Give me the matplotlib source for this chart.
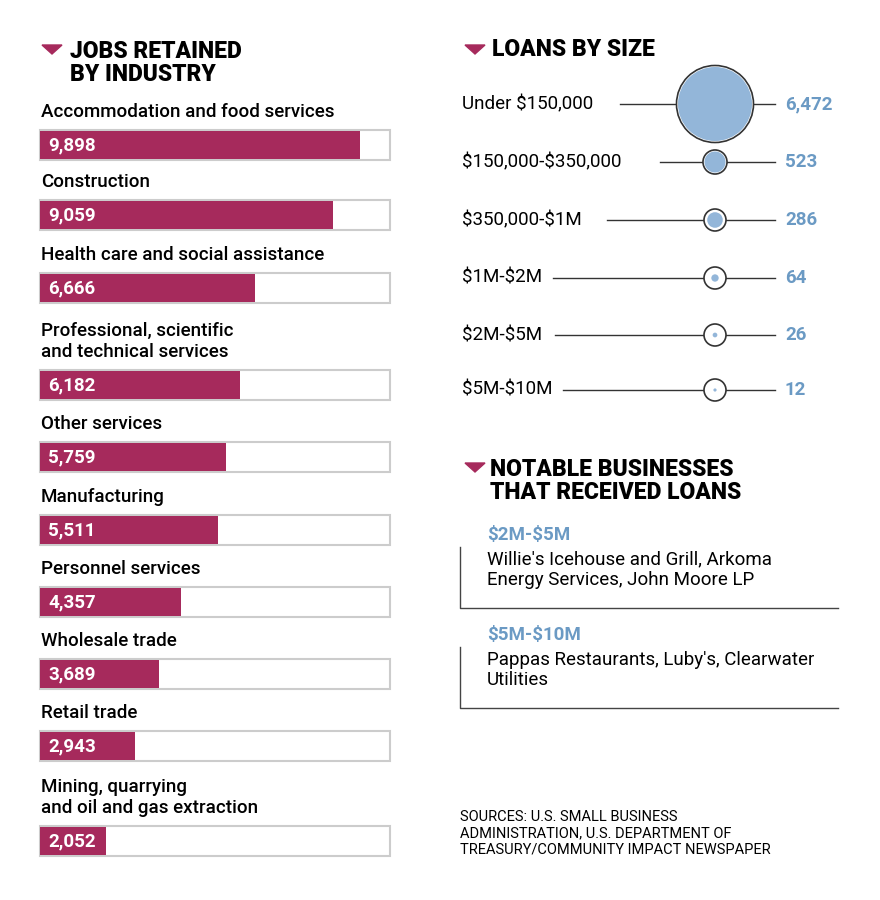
import numpy as np
import matplotlib.pyplot as plt
from matplotlib.patches import Circle, Rectangle, Polygon

plt.rcParams['font.family'] = ['Roboto', 'DejaVu Sans']

industries = ['Accommodation and food services', 'Construction', 'Health care and social assistance',
              'Professional, scientific\nand technical services', 'Other services', 'Manufacturing',
              'Personnel services', 'Wholesale trade', 'Retail trade',
              'Mining, quarrying\nand oil and gas extraction']
jobs = [9898, 9059, 6666, 6182, 5759, 5511, 4357, 3689, 2943, 2052]

loan_sizes = ['Under $150,000', '$150,000-$350,000', '$350,000-$1M', '$1M-$2M', '$2M-$5M', '$5M-$10M']
loan_counts = [6472, 523, 286, 64, 26, 12]

notable = [('$2M-$5M', "Willie's Icehouse and Grill, Arkoma\nEnergy Services, John Moore LP"),
           ('$5M-$10M', "Pappas Restaurants, Luby's, Clearwater\nUtilities")]

MAG = '#a62a5c'
BLUE = '#93b6d9'
BLUE_TXT = '#6b9ac4'

def esc(s):
    return s.replace('$', r'\$')

fig = plt.figure(figsize=(8.8, 9), dpi=100)
ax = fig.add_axes([0, 0, 1, 1])
ax.set_xlim(0, 880)
ax.set_ylim(900, 0)
ax.axis('off')

def tri(x, y):
    ax.add_patch(Polygon([[x, y - 5], [x + 20, y - 5], [x + 10, y + 4]], color=MAG))

# left panel
tri(42, 50)
ax.text(70, 63, 'JOBS RETAINED\nBY INDUSTRY', fontsize=16.5, fontweight='black', va='center',
        linespacing=1.05)
bar_y = [145, 215, 288, 385, 457, 530, 602, 674, 746, 841]
box_w = 350
full = 10830
for name, v, y in zip(industries, jobs, bar_y):
    ax.add_patch(Rectangle((40, y - 15), box_w, 30, fc='white', ec='#cccccc', lw=1.5))
    ax.barh(y, v * box_w / full, left=40, height=28, color=MAG)
    ax.text(48, y, f'{v:,}', color='white', fontsize=13.5, fontweight='bold', va='center')
    ax.text(41, y - 24, name, fontsize=13.5, fontweight='medium', va='bottom', linespacing=1.25)

# loans by size
tri(465, 50)
ax.text(492, 50, 'LOANS BY SIZE', fontsize=16.5, fontweight='black', va='center')
loan_y = [104, 162, 220, 278, 335, 390]
line_start = [620, 660, 607, 553, 555, 563]
cx = 715
rmax = 37
for lab, v, y, xs in zip(loan_sizes, loan_counts, loan_y, line_start):
    ax.text(462, y, esc(lab), fontsize=13.5, va='center')
    ax.plot([xs, 775], [y, y], color='#333333', lw=1)
    r = rmax * np.sqrt(v / max(loan_counts))
    ax.add_patch(Circle((cx, y), max(r, 9.5) + 1.5, fc='white', ec='#333333', lw=1.2, zorder=3))
    ax.add_patch(Circle((cx, y), r, fc=BLUE, ec='none', zorder=4))
    ax.text(785, y, f'{v:,}', fontsize=13.5, fontweight='bold', color=BLUE_TXT, va='center')

# notable businesses
tri(465, 468)
ax.text(490, 481, 'NOTABLE BUSINESSES\nTHAT RECEIVED LOANS', fontsize=16.5, fontweight='black',
        va='center', linespacing=1.05)
for i, (rng, txt) in enumerate(notable):
    y0 = 535 + i * 100
    ax.text(487, y0, esc(rng), fontsize=13.5, fontweight='bold', color=BLUE_TXT, va='center')
    ax.text(487, y0 + 35, txt, fontsize=13.5, va='center', linespacing=1.2)
    ax.plot([460, 460, 838], [y0 + 12, y0 + 73, y0 + 73], color='#444444', lw=1)

ax.text(460, 833, 'SOURCES: U.S. SMALL BUSINESS\nADMINISTRATION, U.S. DEPARTMENT OF\n'
        'TREASURY/COMMUNITY IMPACT NEWSPAPER', fontsize=10.5, va='center', linespacing=1.2)

fig.savefig('out.png', dpi=100)
